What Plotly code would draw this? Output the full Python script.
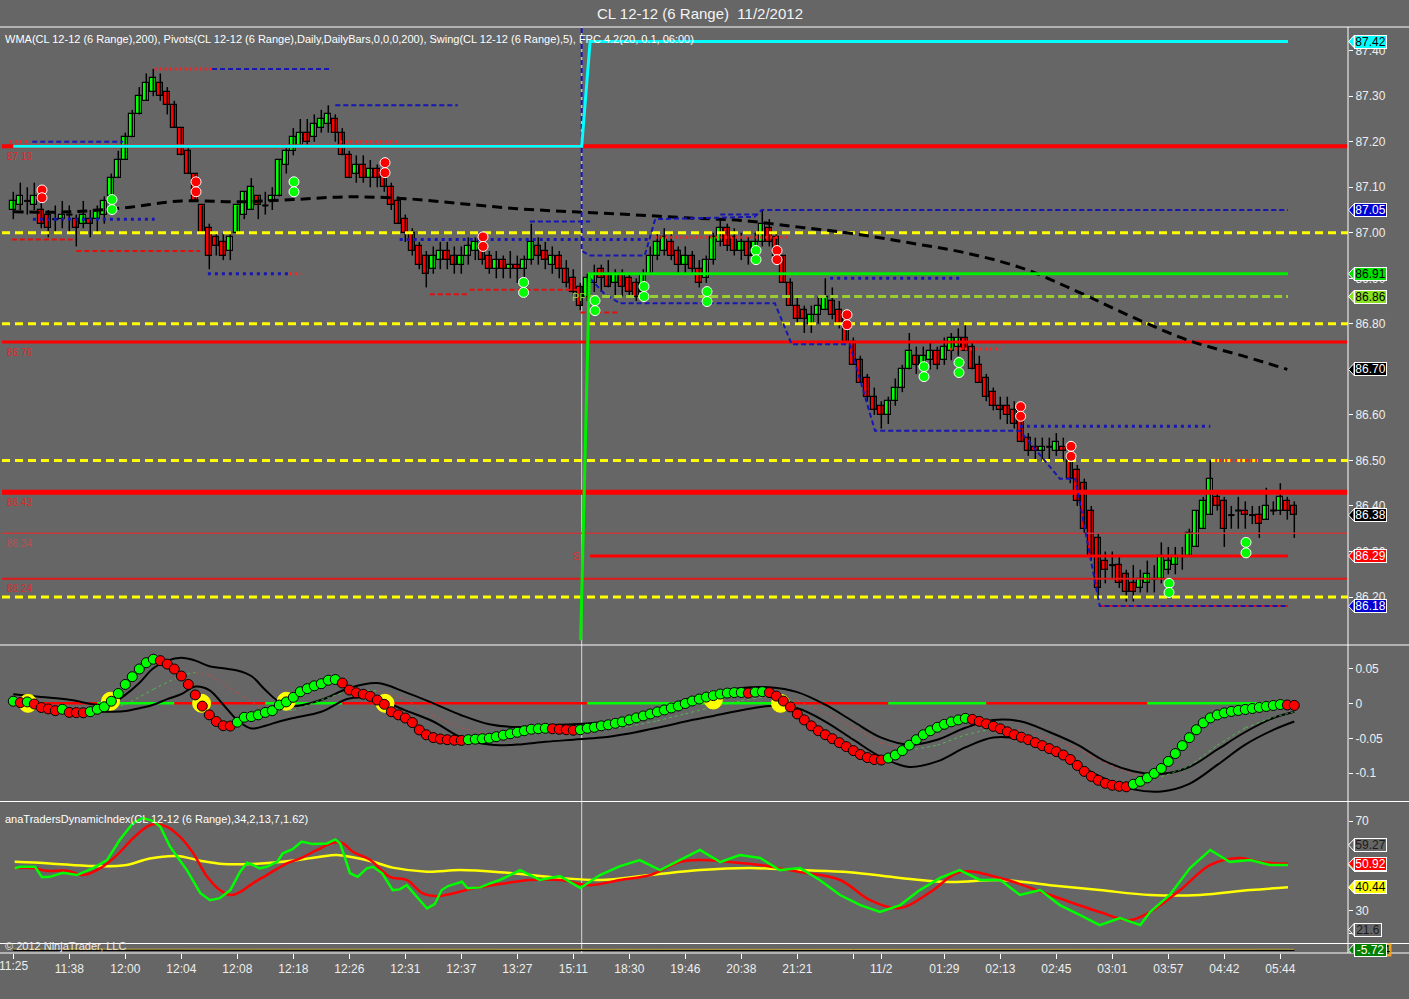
import plotly.graph_objects as go

# ---------------- CL 12-12 (6 Range) bars ----------------
OPEN = [87.05, 87.06, 87.07, 87.06, 87.05, 87.04, 87.03, 87.03, 87.04, 87.03,
        87.02, 87.03, 87.03, 87.04, 87.08, 87.12, 87.16, 87.21, 87.26, 87.29,
        87.31, 87.33, 87.31, 87.28, 87.23, 87.18, 87.13, 87.06, 87.01, 86.99,
        86.98, 86.96, 87.00, 87.04, 87.05, 87.08, 87.06, 87.07, 87.08, 87.15,
        87.18, 87.19, 87.22, 87.21, 87.23, 87.24, 87.25, 87.22, 87.17, 87.13,
        87.15, 87.12, 87.14, 87.13, 87.10, 87.07, 87.03, 87.00, 86.97, 86.95,
        86.92, 86.94, 86.96, 86.95, 86.93, 86.95, 86.96, 86.97, 86.95, 86.92,
        86.94, 86.92, 86.93, 86.92, 86.94, 86.97, 86.96, 86.93, 86.95, 86.92,
        86.90, 86.88, 86.86, 86.89, 86.92, 86.91, 86.89, 86.91, 86.90, 86.89,
        86.87, 86.91, 86.95, 86.96, 86.98, 86.96, 86.93, 86.95, 86.92, 86.90,
        86.94, 86.98, 87.01, 86.99, 86.96, 86.98, 86.95, 86.98, 87.01, 86.99,
        86.95, 86.89, 86.84, 86.83, 86.80, 86.82, 86.83, 86.85, 86.83, 86.81,
        86.76, 86.72, 86.68, 86.64, 86.62, 86.60, 86.63, 86.66, 86.70, 86.73,
        86.71, 86.72, 86.74, 86.72, 86.74, 86.75, 86.77, 86.75, 86.71, 86.68,
        86.65, 86.62, 86.62, 86.61, 86.59, 86.55, 86.53, 86.52, 86.53, 86.52,
        86.53, 86.51, 86.48, 86.45, 86.39, 86.33, 86.28, 86.27, 86.27, 86.25,
        86.23, 86.22, 86.23, 86.24, 86.24, 86.26, 86.27, 86.29, 86.29, 86.31,
        86.35, 86.38, 86.42, 86.41, 86.38, 86.39, 86.39, 86.38, 86.38, 86.37,
        86.39, 86.39, 86.41, 86.40]
HIGH = [87.09, 87.11, 87.10, 87.11, 87.07, 87.05, 87.06, 87.07, 87.06, 87.04,
        87.07, 87.05, 87.06, 87.08, 87.13, 87.18, 87.22, 87.27, 87.32, 87.35,
        87.36, 87.35, 87.32, 87.29, 87.23, 87.19, 87.13, 87.06, 87.02, 87.00,
        87.00, 87.00, 87.06, 87.09, 87.12, 87.08, 87.09, 87.10, 87.16, 87.19,
        87.23, 87.25, 87.25, 87.26, 87.27, 87.28, 87.26, 87.23, 87.18, 87.17,
        87.17, 87.16, 87.15, 87.15, 87.11, 87.08, 87.04, 87.01, 86.98, 86.96,
        86.97, 86.98, 86.98, 86.97, 86.97, 86.99, 86.99, 86.99, 86.96, 86.96,
        86.95, 86.96, 86.95, 86.95, 87.02, 86.99, 86.98, 86.97, 86.96, 86.94,
        86.92, 86.89, 86.91, 86.93, 86.93, 86.94, 86.92, 86.92, 86.91, 86.90,
        86.92, 86.97, 87.00, 87.01, 87.00, 86.97, 86.97, 86.96, 86.94, 86.95,
        87.00, 87.03, 87.02, 87.01, 87.00, 86.99, 87.00, 87.05, 87.03, 87.00,
        86.95, 86.90, 86.86, 86.84, 86.84, 86.86, 86.90, 86.88, 86.85, 86.82,
        86.77, 86.73, 86.69, 86.66, 86.63, 86.64, 86.68, 86.71, 86.78, 86.75,
        86.75, 86.76, 86.75, 86.77, 86.78, 86.79, 86.80, 86.76, 86.73, 86.69,
        86.66, 86.64, 86.64, 86.63, 86.60, 86.56, 86.55, 86.55, 86.55, 86.56,
        86.55, 86.52, 86.49, 86.46, 86.40, 86.34, 86.30, 86.30, 86.29, 86.26,
        86.27, 86.26, 86.28, 86.27, 86.32, 86.31, 86.31, 86.31, 86.35, 86.39,
        86.42, 86.50, 86.43, 86.42, 86.40, 86.42, 86.41, 86.40, 86.40, 86.44,
        86.41, 86.45, 86.42, 86.41]
LOW = [87.03, 87.05, 87.04, 87.05, 87.01, 86.99, 87.00, 87.01, 87.00, 86.97,
       87.01, 86.99, 87.00, 87.02, 87.07, 87.12, 87.16, 87.21, 87.26, 87.29,
       87.30, 87.29, 87.26, 87.23, 87.17, 87.13, 87.07, 87.00, 86.92, 86.95,
       86.94, 86.94, 87.00, 87.03, 87.05, 87.03, 87.04, 87.05, 87.08, 87.13,
       87.17, 87.19, 87.19, 87.20, 87.22, 87.22, 87.20, 87.17, 87.12, 87.11,
       87.11, 87.10, 87.10, 87.09, 87.05, 87.02, 86.98, 86.95, 86.92, 86.88,
       86.91, 86.92, 86.92, 86.91, 86.91, 86.93, 86.94, 86.93, 86.91, 86.90,
       86.90, 86.90, 86.89, 86.89, 86.93, 86.93, 86.92, 86.91, 86.90, 86.88,
       86.86, 86.83, 86.85, 86.87, 86.87, 86.88, 86.86, 86.86, 86.86, 86.85,
       86.86, 86.91, 86.94, 86.95, 86.94, 86.91, 86.91, 86.91, 86.88, 86.89,
       86.93, 86.97, 86.96, 86.95, 86.94, 86.93, 86.94, 86.97, 86.97, 86.94,
       86.89, 86.84, 86.80, 86.78, 86.78, 86.80, 86.83, 86.81, 86.79, 86.76,
       86.71, 86.67, 86.63, 86.60, 86.57, 86.58, 86.62, 86.65, 86.70, 86.69,
       86.69, 86.70, 86.70, 86.71, 86.72, 86.73, 86.74, 86.70, 86.67, 86.63,
       86.61, 86.59, 86.58, 86.57, 86.54, 86.51, 86.50, 86.50, 86.50, 86.51,
       86.50, 86.45, 86.40, 86.34, 86.28, 86.20, 86.23, 86.24, 86.22, 86.19,
       86.19, 86.21, 86.21, 86.21, 86.23, 86.25, 86.25, 86.26, 86.29, 86.31,
       86.35, 86.38, 86.39, 86.31, 86.35, 86.35, 86.35, 86.36, 86.33, 86.37,
       86.38, 86.38, 86.37, 86.33]
CLOSE = [87.07, 87.08, 87.07, 87.08, 87.02, 87.01, 87.03, 87.04, 87.04, 87.01,
         87.04, 87.02, 87.05, 87.07, 87.12, 87.16, 87.21, 87.26, 87.30, 87.33,
         87.34, 87.30, 87.28, 87.23, 87.17, 87.13, 87.07, 87.00, 86.95, 86.97,
         86.95, 86.99, 87.06, 87.09, 87.10, 87.06, 87.06, 87.08, 87.16, 87.18,
         87.21, 87.22, 87.20, 87.24, 87.25, 87.26, 87.22, 87.17, 87.12, 87.15,
         87.12, 87.14, 87.12, 87.10, 87.06, 87.02, 87.00, 86.96, 86.93, 86.91,
         86.95, 86.96, 86.94, 86.93, 86.95, 86.97, 86.98, 86.94, 86.92, 86.94,
         86.92, 86.93, 86.92, 86.94, 86.98, 86.95, 86.94, 86.95, 86.92, 86.89,
         86.87, 86.84, 86.90, 86.91, 86.90, 86.88, 86.91, 86.88, 86.87, 86.86,
         86.91, 86.95, 86.98, 86.99, 86.95, 86.93, 86.95, 86.92, 86.89, 86.94,
         86.99, 87.01, 86.97, 86.96, 86.98, 86.95, 86.98, 87.02, 86.98, 86.95,
         86.89, 86.84, 86.81, 86.81, 86.82, 86.84, 86.86, 86.82, 86.80, 86.76,
         86.71, 86.67, 86.64, 86.61, 86.60, 86.63, 86.66, 86.70, 86.74, 86.71,
         86.73, 86.74, 86.71, 86.75, 86.77, 86.77, 86.74, 86.70, 86.67, 86.64,
         86.62, 86.61, 86.60, 86.58, 86.54, 86.52, 86.52, 86.53, 86.53, 86.54,
         86.52, 86.46, 86.41, 86.35, 86.29, 86.22, 86.26, 86.27, 86.23, 86.21,
         86.21, 86.24, 86.25, 86.24, 86.29, 86.28, 86.29, 86.29, 86.34, 86.39,
         86.41, 86.46, 86.40, 86.35, 86.38, 86.39, 86.38, 86.38, 86.36, 86.40,
         86.39, 86.42, 86.39, 86.38]

# time axis labels (bar index -> label)
TICK_BARS = [0, 8, 16, 24, 32, 40, 48, 56, 64, 72, 80, 88, 96, 104, 112, 120,
             124, 133, 141, 149, 157, 165, 173, 181]
TICK_TEXT = ["11:25", "11:38", "12:00", "12:04", "12:08", "12:18", "12:26", "12:31",
             "12:37", "13:27", "15:11", "18:30", "19:46", "20:38", "21:21", "",
             "11/2", "01:29", "02:13", "02:45", "03:01", "03:57", "04:42", "05:44"]

# WMA(200)
WMA_X = [0, 8, 16, 24, 32, 40, 48, 56, 64, 72, 80, 88, 96, 104, 112, 120, 128,
         136, 144, 152, 160, 168, 176, 182]
WMA = [87.046, 87.046, 87.055, 87.070, 87.068, 87.073, 87.079, 87.075, 87.064,
       87.053, 87.046, 87.040, 87.033, 87.027, 87.013, 86.998, 86.978, 86.956,
       86.923, 86.871, 86.814, 86.763, 86.728, 86.70]

# daily pivots and round-number levels
PIVOT_LEVELS = [87.19, 86.76, 86.43, 86.34, 86.24]
ROUND_LEVELS = [87.00, 86.80, 86.50, 86.20]

# FPC 4.2
SESSION_BREAK = 81.2
FPC_CYAN_X = [0, 81.2, 82.4, 182.1]
FPC_CYAN = [87.19, 87.19, 87.42, 87.42]
FPC_GREEN_X = [81.05, 82.3, 182.1]
FPC_GREEN = [86.105, 86.91, 86.91]
FPC_UPPER_X = [81.2, 81.2, 82.4, 90.2, 91.7, 105.9, 106.9, 182.1]
FPC_UPPER = [87.45, 86.96, 86.95, 86.95, 87.03, 87.035, 87.05, 87.05]
FPC_LOWER_X = [82.4, 84.5, 86.7, 108.8, 111.2, 119.5, 123.1, 143.8, 149.5, 151.7, 155.2, 182.1]
FPC_LOWER = [86.90, 86.865, 86.845, 86.845, 86.755, 86.755, 86.565, 86.565, 86.46, 86.46, 86.18, 86.18]
PP_LEVEL = 86.86
S_LEVEL = 86.29
FPC_END = 182.1

# Swing(5) segments: start bar, end bar, level, style
SWING_START = [20.2, 28.4, 46.0, 46.7, -0.5, 2.7, 2.8, -0.2, 9.0, 27.8, 39.5, 55.2,
               59.5, 65.2, 73.8, 81.0, 91.0, 101.0, 116.7, 133.8, 143.8, 171.7, 155.2]
SWING_END = [28.4, 45.2, 63.5, 55.2, 2.4, 15.7, 20.2, 8.5, 26.7, 39.5, 41.0, 91.0,
             65.2, 81.0, 82.4, 86.7, 111.0, 106.7, 135.2, 141.0, 171.0, 178.0, 182.1]
SWING_LEVEL = [87.36, 87.36, 87.28, 87.20, 87.20, 87.20, 87.03, 86.985, 86.96, 86.91,
               86.91, 86.985, 86.865, 86.875, 87.025, 86.825, 86.99, 87.04, 86.90,
               86.745, 86.575, 86.50, 86.18]
SWING_KIND = ["red_dot", "blue_dash", "blue_dash", "red_dot", "red_dot", "blue_dash",
              "blue_dot", "red_dash", "red_dash", "blue_dot", "red_dot", "blue_dot",
              "red_dash", "red_dash", "blue_dash", "red_dash", "red_dot", "blue_dash",
              "blue_dot", "red_dot", "blue_dot", "red_dot", "red_dash"]

# signal dot pairs
RED_PAIR_BARS = [4.1, 26.1, 53.1, 67.1, 109.1, 119.1, 143.9, 151.1]
RED_PAIR_TOP = [87.094, 87.112, 87.154, 86.991, 86.961, 86.820, 86.618, 86.531]
RED_PAIR_BOT = [87.077, 87.090, 87.132, 86.970, 86.941, 86.798, 86.597, 86.509]
GREEN_PAIR_BARS = [14.1, 40.1, 72.9, 83.1, 90.1, 99.1, 106.1, 130.1, 135.1, 165.1, 176.1]
GREEN_PAIR_TOP = [87.073, 87.112, 86.891, 86.851, 86.882, 86.871, 86.961, 86.706, 86.715, 86.230, 86.320]
GREEN_PAIR_BOT = [87.051, 87.090, 86.869, 86.829, 86.860, 86.849, 86.941, 86.684, 86.693, 86.210, 86.297]

# oscillator panel
OSC = [0.003, 0.001, 0.002, -0.001, -0.006, -0.008, -0.0105, -0.0085, -0.013, -0.0133,
       -0.0135, -0.012, -0.0085, -0.005, 0.003, 0.014, 0.027, 0.038, 0.049, 0.058,
       0.063, 0.061, 0.056, 0.049, 0.039, 0.027, 0.012, -0.004, -0.0165, -0.026,
       -0.032, -0.0325, -0.027, -0.020, -0.019, -0.0165, -0.013, -0.0105, -0.0025, 0.002,
       0.0085, 0.0165, 0.021, 0.025, 0.028, 0.033, 0.034, 0.029, 0.019, 0.015,
       0.013, 0.010, 0.0047, -0.0014, -0.012, -0.0165, -0.021, -0.0275, -0.038, -0.045,
       -0.049, -0.051, -0.052, -0.0527, -0.053, -0.052, -0.0513, -0.0506, -0.0499, -0.0477,
       -0.0456, -0.0435, -0.0414, -0.0392, -0.0371, -0.0364, -0.0357, -0.0364, -0.0371, -0.0378,
       -0.0385, -0.0378, -0.0357, -0.0343, -0.0322, -0.0307, -0.0286, -0.0265, -0.0237, -0.0208,
       -0.018, -0.0152, -0.0123, -0.0095, -0.0067, -0.0038, -0.0003, 0.0033, 0.0061, 0.0089,
       0.011, 0.0132, 0.0146, 0.0153, 0.0155, 0.0146, 0.016, 0.0167, 0.0153, 0.0103,
       0.0033, -0.0052, -0.0152, -0.0237, -0.0322, -0.0392, -0.0449, -0.0506, -0.0562, -0.0619,
       -0.0676, -0.0732, -0.0775, -0.0803, -0.081, -0.0782, -0.0739, -0.0676, -0.0598, -0.052,
       -0.0449, -0.0392, -0.0343, -0.030, -0.0265, -0.0237, -0.0215, -0.0229, -0.0258, -0.0293,
       -0.0329, -0.0364, -0.0407, -0.0449, -0.0484, -0.052, -0.0562, -0.0605, -0.0647, -0.069,
       -0.0739, -0.0803, -0.0888, -0.0973, -0.1044, -0.110, -0.1143, -0.1171, -0.1185, -0.1193,
       -0.1157, -0.1115, -0.1065, -0.1001, -0.0931, -0.0831, -0.0718, -0.0605, -0.0491, -0.0378,
       -0.0279, -0.0208, -0.0166, -0.0137, -0.0116, -0.0102, -0.0088, -0.0074, -0.0059, -0.0045,
       -0.0031, -0.0017, -0.0024, -0.003]
OSC_BAND_X = [0, 4, 8, 12, 14, 16, 18, 20, 22, 24, 26, 28, 30, 32, 34, 36, 38, 40, 44, 48,
              52, 56, 60, 64, 68, 72, 76, 80, 84, 88, 92, 96, 100, 104, 108, 112, 116, 120,
              124, 128, 132, 136, 140, 144, 148, 152, 156, 160, 164, 168, 172, 176, 180, 183]
OSC_UPPER = [0.013, 0.009, 0.005, -0.002, -0.001, 0.012, 0.029, 0.050, 0.061, 0.065,
             0.061, 0.053, 0.050, 0.047, 0.039, 0.019, 0.002, -0.004, 0.005, 0.022,
             0.029, 0.016, 0.0, -0.017, -0.030, -0.034, -0.031, -0.030, -0.027, -0.022,
             -0.010, 0.005, 0.015, 0.022, 0.023, 0.016, -0.002, -0.026, -0.049, -0.059,
             -0.052, -0.035, -0.024, -0.026, -0.041, -0.059, -0.083, -0.097, -0.101, -0.091,
             -0.066, -0.041, -0.021, -0.012]
OSC_LOWER = [0.0, -0.004, -0.008, -0.012, -0.012, -0.011, -0.007, -0.002, 0.006, 0.013,
             0.024, 0.019, -0.002, -0.024, -0.036, -0.032, -0.026, -0.021, -0.012, 0.007,
             0.005, -0.010, -0.026, -0.049, -0.059, -0.059, -0.055, -0.052, -0.049, -0.043,
             -0.035, -0.026, -0.018, -0.010, -0.004, -0.007, -0.026, -0.052, -0.077, -0.091,
             -0.083, -0.063, -0.049, -0.052, -0.069, -0.088, -0.108, -0.123, -0.126, -0.115,
             -0.088, -0.059, -0.038, -0.026]
OSC_SIG_X = [0, 8, 12, 16, 20, 24, 26, 28, 32, 36, 40, 44, 48, 52, 56, 60, 64, 68, 72, 76,
             80, 84, 88, 92, 96, 100, 104, 108, 112, 116, 120, 124, 128, 132, 136, 140, 144,
             148, 152, 156, 160, 164, 168, 172, 176, 180, 183]
OSC_SIG = [0.0, -0.008, -0.010, -0.002, 0.020, 0.040, 0.044, 0.040, 0.015, -0.010,
           -0.010, 0.005, 0.018, 0.018, 0.006, -0.018, -0.035, -0.045, -0.046, -0.042,
           -0.040, -0.038, -0.033, -0.025, -0.015, -0.005, 0.004, 0.010, 0.004, -0.012,
           -0.035, -0.057, -0.067, -0.060, -0.045, -0.036, -0.038, -0.050, -0.065, -0.085,
           -0.102, -0.105, -0.090, -0.060, -0.035, -0.020, -0.012]
ZERO_SEG_BARS = [0, 12, 23, 36, 47, 82, 109, 125, 139, 162, 182]
CROSS_BARS = [2.1, 13.9, 26.9, 39.0, 53.1, 100.0, 109.6]
CROSS_VALUES = [0.0, 0.003, 0.0, 0.003, 0.0, 0.0047, 0.0]

# anaTradersDynamicIndex panel
TDI_RSI_X = [0.2, 1.0, 3.1, 4.1, 5.2, 7.1, 9.1, 11.4, 13.4, 15.2, 17.1, 18.5, 19.9, 21.0,
             22.4, 24.8, 26.7, 28.1, 29.5, 31.0, 32.4, 33.4, 34.2, 35.2, 36.2, 37.7, 38.5,
             39.9, 41.2, 42.8, 44.8, 46.0, 46.7, 48.1, 49.2, 50.5, 51.4, 52.7, 54.2, 55.2,
             56.2, 57.7, 59.1, 60.2, 61.2, 62.1, 64.1, 64.9, 66.7, 68.1, 69.5, 72.4, 75.2,
             78.1, 81.0, 83.8, 86.7, 89.5, 92.4, 95.2, 98.1, 101.0, 103.8, 106.7, 109.5,
             112.4, 115.2, 118.1, 121.0, 123.8, 126.7, 129.5, 132.4, 135.2, 138.1, 141.0,
             143.8, 146.7, 149.5, 152.4, 155.2, 158.1, 161.0, 162.4, 165.2, 168.1, 171.0,
             173.8, 176.7, 179.5, 182.1]
TDI_RSI = [48.9, 49.6, 49.6, 44.9, 45.1, 46.9, 45.9, 49.0, 52.6, 61.5, 69.1, 71.3, 70.1,
           67.5, 58.5, 48.1, 37.9, 34.7, 35.6, 39.2, 47.4, 51.4, 50.4, 48.9, 49.6, 51.8,
           55.6, 57.4, 60.8, 59.7, 60.0, 61.8, 60.0, 46.7, 45.1, 48.9, 49.6, 46.7, 39.2,
           39.5, 41.4, 36.2, 31.0, 32.9, 39.2, 41.0, 42.9, 40.0, 40.4, 42.2, 43.7, 48.1,
           43.7, 45.4, 40.1, 45.9, 49.9, 52.6, 48.1, 52.6, 57.1, 51.7, 54.8, 53.5, 48.1,
           49.0, 43.7, 37.0, 32.5, 29.4, 32.5, 39.2, 44.6, 48.1, 43.7, 43.7, 37.0, 39.2,
           32.5, 28.0, 23.6, 26.7, 23.6, 29.4, 37.0, 49.0, 57.1, 51.7, 52.6, 50.4, 50.4]
TDI_SIGNAL_X = [0.2, 2.8, 4.8, 7.7, 9.9, 12.4, 14.8, 17.1, 19.1, 20.2, 21.9, 23.8, 25.7,
                27.7, 29.5, 31.0, 32.4, 34.2, 36.2, 39.1, 41.0, 43.4, 45.7, 47.1, 48.5,
                51.0, 53.8, 56.2, 58.5, 60.5, 62.8, 65.7, 68.5, 73.8, 78.1, 82.4, 86.7,
                91.0, 95.2, 98.1, 102.4, 106.7, 112.4, 118.1, 122.4, 126.7, 131.0, 135.2,
                141.0, 148.1, 155.2, 159.5, 162.4, 166.7, 171.0, 175.2, 178.1, 182.1]
TDI_SIGNAL = [49.0, 49.0, 47.8, 47.8, 45.9, 48.9, 54.8, 62.3, 67.5, 68.7, 67.5, 63.0, 55.6,
              45.1, 39.2, 37.0, 38.4, 42.2, 45.9, 51.1, 53.3, 57.1, 60.3, 60.0, 56.3, 52.6,
              45.1, 43.7, 37.7, 36.5, 37.7, 40.0, 41.4, 43.7, 43.7, 41.4, 43.7, 45.9, 51.7,
              52.6, 51.7, 50.4, 47.2, 43.7, 34.7, 31.2, 38.3, 47.2, 44.6, 37.0, 29.4, 25.8,
              29.4, 39.2, 50.4, 53.5, 51.7, 50.92]
TDI_BASE_X = [0.2, 5.2, 11.4, 16.2, 19.5, 23.4, 26.7, 30.0, 33.8, 38.5, 43.4, 46.2, 48.5,
              51.4, 54.2, 59.1, 63.8, 69.5, 78.1, 83.8, 91.0, 98.1, 105.2, 112.4, 119.5,
              126.7, 133.8, 141.0, 148.1, 155.2, 162.4, 169.5, 176.7, 182.1]
TDI_BASE = [51.8, 51.1, 49.9, 50.4, 53.3, 54.4, 52.3, 50.8, 50.8, 51.8, 53.8, 54.8, 53.8,
            51.8, 49.2, 47.4, 48.1, 47.2, 44.6, 43.7, 45.9, 48.1, 49.0, 48.1, 47.2, 44.6,
            42.8, 43.7, 41.4, 39.2, 37.0, 37.0, 39.2, 40.44]
TDI_BAND_UP_LAST = 59.27
TDI_BAND_LO_LAST = 21.6

# bottom strip indicator
STRIP_X = [0, 30, 60, 90, 120, 150, 183]
STRIP = [-5.72, -5.72, -5.72, -5.72, -5.72, -5.72, -5.72]
STRIP_ALT_X = [0, 40, 80, 120, 183]
STRIP_ALT = [-5.0, -5.2, -5.0, -5.2, -5.1]
STRIP_LAST_ALT = -5.724

# ---------------- drawing ----------------
FONT = "Liberation Sans, Arial, sans-serif"
BG = "#666666"
X_MIN, X_MAX = -1.614, 190.67
BARS = list(range(len(CLOSE)))
BODY_W = 0.9


def px_x(px):
    return (px - 2.0) / 1346.0


def px_y(py):
    return (953.0 - py) / 926.0


fig = go.Figure()


def add_line(x, y, color, width, dash="solid", axis="y", shape="linear", opacity=1.0):
    fig.add_trace(go.Scatter(x=x, y=y, mode="lines", yaxis=axis, opacity=opacity,
                             line=dict(color=color, width=width, dash=dash, shape=shape),
                             hoverinfo="skip", showlegend=False))


def add_dots(x, y, colors, size, outline, axis="y", width=1):
    fig.add_trace(go.Scatter(x=x, y=y, mode="markers", yaxis=axis,
                             marker=dict(color=colors, size=size,
                                         line=dict(color=outline, width=width)),
                             hoverinfo="skip", showlegend=False))


# candles: wicks, then bodies
wick_x, wick_y = [], []
for i in BARS:
    wick_x += [i, i, None]
    wick_y += [LOW[i], HIGH[i], None]
add_line(wick_x, wick_y, "#000000", 1.5)

up = [i for i in BARS if CLOSE[i] > OPEN[i]]
down = [i for i in BARS if CLOSE[i] < OPEN[i]]
flat = [i for i in BARS if CLOSE[i] == OPEN[i]]
fig.add_trace(go.Bar(x=up, base=[OPEN[i] for i in up],
                     y=[CLOSE[i] - OPEN[i] for i in up], width=BODY_W, yaxis="y",
                     marker=dict(color="#00ff00", line=dict(color="#000000", width=1.2)),
                     hoverinfo="skip", showlegend=False))
fig.add_trace(go.Bar(x=down, base=[CLOSE[i] for i in down],
                     y=[OPEN[i] - CLOSE[i] for i in down], width=BODY_W, yaxis="y",
                     marker=dict(color="#ff0000", line=dict(color="#000000", width=1.2)),
                     hoverinfo="skip", showlegend=False))
flat_x, flat_y = [], []
for i in flat:
    flat_x += [i - BODY_W / 2, i + BODY_W / 2, None]
    flat_y += [OPEN[i], OPEN[i], None]
add_line(flat_x, flat_y, "#000000", 2)

# pivot levels
PIVOT_COLORS = ["#ff0000", "#ff0000", "#ff0000", "#c43a3a", "#e01818"]
PIVOT_WIDTHS = [4, 3, 5, 1.5, 2]
for lvl, col, w in zip(PIVOT_LEVELS, PIVOT_COLORS, PIVOT_WIDTHS):
    add_line([X_MIN, X_MAX], [lvl, lvl], col, w)
for lvl in ROUND_LEVELS:
    add_line([X_MIN, X_MAX], [lvl, lvl], "#ffff00", 3, dash="8px,5px")

# swing lines
SWING_STYLE = {
    "red_dot": ("#ff2020", 3, "2px,3px"),
    "red_dash": ("#e01010", 2, "5px,3px"),
    "blue_dot": ("#1616b4", 3, "3px,4px"),
    "blue_dash": ("#1616b4", 2, "5px,3px"),
}
for s, e, lvl, kind in zip(SWING_START, SWING_END, SWING_LEVEL, SWING_KIND):
    col, w, d = SWING_STYLE[kind]
    add_line([s, e], [lvl, lvl], col, w, dash=d)

# WMA
add_line(WMA_X, WMA, "#000000", 3, dash="10px,6px", shape="spline")

# FPC
add_line(FPC_UPPER_X, FPC_UPPER, "#1616b4", 2, dash="5px,3px")
add_line(FPC_LOWER_X, FPC_LOWER, "#1616b4", 2, dash="5px,3px")
add_line([FPC_LOWER_X[0], FPC_END], [PP_LEVEL, PP_LEVEL], "#9acd32", 3, dash="8px,4px")
add_line([FPC_LOWER_X[0], FPC_END], [S_LEVEL, S_LEVEL], "#ff0000", 3)
add_line(FPC_CYAN_X, FPC_CYAN, "#00ffff", 3)
add_line(FPC_GREEN_X, FPC_GREEN, "#00ee00", 3)

# dot pairs
add_dots(RED_PAIR_BARS * 2, RED_PAIR_TOP + RED_PAIR_BOT, "#ff0000", 10, "#ffffff")
add_dots(GREEN_PAIR_BARS * 2, GREEN_PAIR_TOP + GREEN_PAIR_BOT, "#00ff00", 10, "#ffffff")

# oscillator panel
for i in range(len(ZERO_SEG_BARS) - 1):
    col = "#ff0000" if i % 2 == 0 else "#00ff00"
    add_line([ZERO_SEG_BARS[i], ZERO_SEG_BARS[i + 1]], [0, 0], col, 2.5, axis="y2")
add_line(OSC_BAND_X, OSC_UPPER, "#000000", 2, axis="y2", shape="spline")
add_line(OSC_BAND_X, OSC_LOWER, "#000000", 2, axis="y2", shape="spline")
for i in range(len(OSC_SIG) - 1):
    col = "#44dd44" if OSC_SIG[i + 1] >= OSC_SIG[i] else "#dd4444"
    add_line([OSC_SIG_X[i], OSC_SIG_X[i + 1]], [OSC_SIG[i], OSC_SIG[i + 1]], col, 1,
             dash="dot", axis="y2", opacity=0.7)
add_dots(CROSS_BARS, CROSS_VALUES, "#ffff00", 18, "#ffff00", axis="y2")
osc_colors = ["#00ff00"] + ["#00ff00" if OSC[i] >= OSC[i - 1] else "#ff0000"
                            for i in range(1, len(OSC))]
add_dots(BARS, OSC, osc_colors, 10, "#000000", axis="y2")

# TDI panel
add_line(TDI_BASE_X, TDI_BASE, "#ffff00", 2.5, axis="y3", shape="spline")
add_line(TDI_SIGNAL_X, TDI_SIGNAL, "#ff0000", 2.5, axis="y3", shape="spline")
add_line(TDI_RSI_X, TDI_RSI, "#00ff00", 2.5, axis="y3")

# bottom strip
add_line(STRIP_X, STRIP, "#000000", 2, axis="y4")
add_line(STRIP_ALT_X, STRIP_ALT, "#c8b040", 1, axis="y4")

# ---------------- layout ----------------
shapes = []
annotations = []

# panel frames
for py in [27, 645, 801.5, 943.5, 953]:
    shapes.append(dict(type="line", xref="paper", yref="paper", x0=-0.01, x1=1.05,
                       y0=px_y(py), y1=px_y(py), line=dict(color="#ffffff", width=1),
                       layer="above"))
shapes.append(dict(type="line", xref="paper", yref="paper", x0=1.0, x1=1.0, y0=0, y1=1,
                   line=dict(color="#ffffff", width=1), layer="above"))
shapes.append(dict(type="line", xref="x", yref="paper", x0=SESSION_BREAK, x1=SESSION_BREAK,
                   y0=0, y1=1, line=dict(color="#d8d8d8", width=1), layer="below"))


def tag(yref, value, text, bg, fg, half, border="#ffffff", width=31):
    shapes.append(dict(type="path", xref="paper", yref=yref,
                       path=f"M {px_x(1348.5)},{value} L {px_x(1354)},{value + half} "
                            f"L {px_x(1354)},{value - half} Z",
                       fillcolor=bg, line=dict(color=border, width=1), layer="above"))
    annotations.append(dict(xref="paper", yref=yref, x=px_x(1354), y=value,
                            xanchor="left", yanchor="middle", text=text, showarrow=False,
                            font=dict(family=FONT, size=12, color=fg), bgcolor=bg,
                            bordercolor=border, borderwidth=1, borderpad=0,
                            width=width, height=12))


PRICE_RANGE = [86.0968, 87.452]
OSC_RANGE = [-0.1396, 0.0819]
TDI_RANGE = [15.6, 78.47]
STRIP_RANGE = [-8.0, -1.0]
h_price = 6 * (PRICE_RANGE[1] - PRICE_RANGE[0]) / (644 - 27)
h_tdi = 6 * (TDI_RANGE[1] - TDI_RANGE[0]) / (943 - 802)
h_strip = 6 * (STRIP_RANGE[1] - STRIP_RANGE[0]) / 9

tag("y", FPC_CYAN[-1], f"{FPC_CYAN[-1]:.2f}", "#00ffff", "#000000", h_price)
tag("y", FPC_UPPER[-1], f"{FPC_UPPER[-1]:.2f}", "#0000d0", "#ffffff", h_price)
tag("y", FPC_GREEN[-1], f"{FPC_GREEN[-1]:.2f}", "#00e000", "#000000", h_price)
tag("y", PP_LEVEL, f"{PP_LEVEL:.2f}", "#88e020", "#000000", h_price)
tag("y", WMA[-1], f"{WMA[-1]:.2f}", "#000000", "#ffffff", h_price)
tag("y", CLOSE[-1], f"{CLOSE[-1]:.2f}", "#000000", "#ffffff", h_price)
tag("y", S_LEVEL, f"{S_LEVEL:.2f}", "#ff0000", "#ffffff", h_price)
tag("y", FPC_LOWER[-1], f"{FPC_LOWER[-1]:.2f}", "#0000d0", "#ffffff", h_price)

tag("y3", TDI_BAND_UP_LAST, f"{TDI_BAND_UP_LAST:g}", BG, "#1a1a1a", h_tdi)
tag("y3", TDI_RSI[-1], f"{TDI_RSI[-1]:g}", "#00ff00", "#000000", h_tdi)
tag("y3", TDI_SIGNAL[-1], f"{TDI_SIGNAL[-1]:.2f}", "#ff0000", "#ffffff", h_tdi)
tag("y3", TDI_BASE[-1], f"{TDI_BASE[-1]:.2f}", "#ffff00", "#000000", h_tdi)
tag("y3", TDI_BAND_LO_LAST, f"{TDI_BAND_LO_LAST:g}", BG, "#1a1a1a", h_tdi, width=26)
annotations.append(dict(xref="paper", yref="y4", x=px_x(1354), y=STRIP_LAST_ALT,
                        xanchor="left", yanchor="middle", text=f"{STRIP_LAST_ALT:.3f}",
                        showarrow=False, font=dict(family=FONT, size=12, color="#000000"),
                        bgcolor="#f0a020", borderpad=0, width=36, height=12))
tag("y4", STRIP[-1], f"{STRIP[-1]:.2f}", "#008000", "#ffffff", h_strip)

# left-hand pivot captions
PIVOT_LABEL_COLORS = ["#e02828", "#e02828", "#e02828", "#b85050", "#d83030"]
for lvl, col in zip(PIVOT_LEVELS, PIVOT_LABEL_COLORS):
    annotations.append(dict(xref="paper", yref="y", x=px_x(5), y=lvl, yshift=-10,
                            xanchor="left", yanchor="middle", text=f"{lvl:.2f}",
                            showarrow=False, font=dict(family=FONT, size=10, color=col)))
annotations.append(dict(xref="x", yref="y", x=SESSION_BREAK, y=PP_LEVEL, xshift=-2,
                        xanchor="center", yanchor="middle", text="PP", showarrow=False,
                        font=dict(family=FONT, size=11, color="#9acd32")))
annotations.append(dict(xref="x", yref="y", x=SESSION_BREAK, y=S_LEVEL, xshift=-5,
                        xanchor="center", yanchor="middle", text="S", showarrow=False,
                        font=dict(family=FONT, size=11, color="#e03030")))

# first time label sits at the left edge of the chart
annotations.append(dict(xref="x", yref="paper", x=TICK_BARS[0], y=px_y(966),
                        xanchor="center", yanchor="middle", text=TICK_TEXT[0],
                        showarrow=False, font=dict(family=FONT, size=12, color="#eeeeee")))

# captions
annotations.append(dict(xref="paper", yref="paper", x=px_x(700), y=px_y(13),
                        xanchor="center", yanchor="middle",
                        text="CL 12-12 (6 Range)\u00a0 11/2/2012", showarrow=False,
                        font=dict(family=FONT, size=15, color="#f4f4f4")))
annotations.append(dict(xref="paper", yref="paper", x=px_x(3), y=px_y(39),
                        xanchor="left", yanchor="middle",
                        text="WMA(CL 12-12 (6 Range),200), Pivots(CL 12-12 (6 Range),Daily,"
                             "DailyBars,0,0,0,200), Swing(CL 12-12 (6 Range),5), "
                             "FPC 4.2(20, 0.1, 06:00)",
                        showarrow=False, font=dict(family=FONT, size=11, color="#ffffff")))
annotations.append(dict(xref="paper", yref="paper", x=px_x(3), y=px_y(819),
                        xanchor="left", yanchor="middle",
                        text="anaTradersDynamicIndex(CL 12-12 (6 Range),34,2,13,7,1.62)",
                        showarrow=False, font=dict(family=FONT, size=11, color="#ffffff")))
annotations.append(dict(xref="paper", yref="paper", x=px_x(3), y=px_y(946),
                        xanchor="left", yanchor="middle", text="\u00a9 2012 NinjaTrader, LLC",
                        showarrow=False, font=dict(family=FONT, size=11, color="#e8e8e8")))

axis_common = dict(showgrid=False, zeroline=False, showline=False, automargin=False,
                   side="right", anchor="x", ticks="outside", ticklen=4,
                   tickcolor="#ffffff", tickwidth=1,
                   tickfont=dict(family=FONT, size=12, color="#eeeeee"))

fig.update_layout(
    template="none",
    width=1409, height=999,
    margin=dict(l=2, r=61, t=27, b=46, autoexpand=False),
    paper_bgcolor=BG, plot_bgcolor=BG,
    showlegend=False, barmode="overlay", bargap=0,
    xaxis=dict(range=[X_MIN, X_MAX], domain=[0, 1], anchor="y4", showgrid=False,
               zeroline=False, showline=False, automargin=False,
               tickmode="array", tickvals=TICK_BARS, ticktext=[""] + TICK_TEXT[1:],
               ticks="outside", ticklen=5, tickcolor="#ffffff", tickwidth=1,
               tickfont=dict(family=FONT, size=12, color="#eeeeee")),
    yaxis=dict(domain=[px_y(644), 1.0], range=PRICE_RANGE, tickmode="array",
               tickvals=[86.2, 86.3, 86.4, 86.5, 86.6, 86.7, 86.8, 86.9, 87.0, 87.1,
                         87.2, 87.3, 87.4],
               tickformat=".2f", **axis_common),
    yaxis2=dict(domain=[px_y(801), px_y(646)], range=OSC_RANGE, tickmode="array",
                tickvals=[-0.1, -0.05, 0, 0.05], ticktext=["-0.1", "-0.05", "0", "0.05"],
                **axis_common),
    yaxis3=dict(domain=[px_y(943), px_y(802)], range=TDI_RANGE, tickmode="array",
                tickvals=[20, 30, 40, 50, 60, 70], ticktext=["20", "30", "", "", "", "70"],
                **axis_common),
    yaxis4=dict(domain=[0, px_y(944)], range=STRIP_RANGE, showgrid=False, zeroline=False,
                showline=False, showticklabels=False, ticks="", anchor="x",
                automargin=False),
    shapes=shapes,
    annotations=annotations,
)

fig.write_html("out.html")
